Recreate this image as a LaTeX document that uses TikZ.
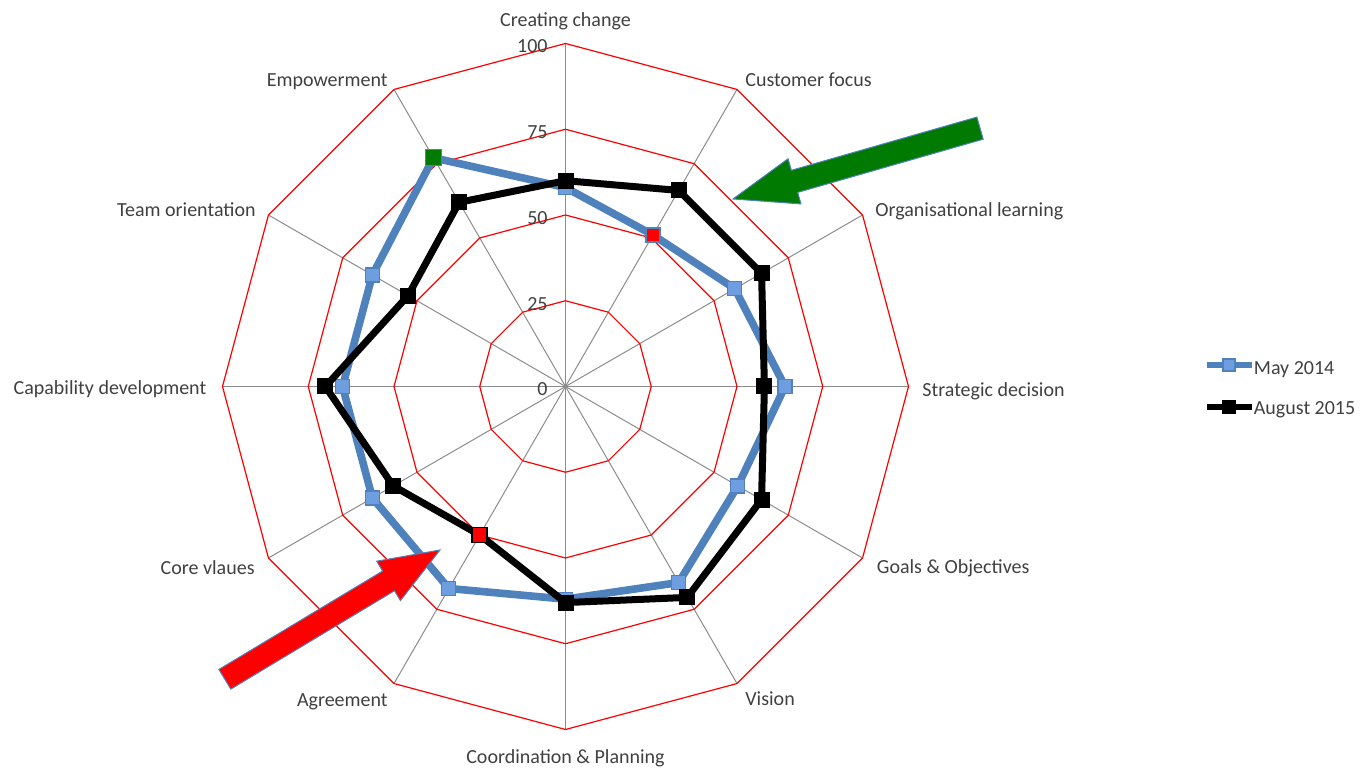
\documentclass[tikz,border=0pt]{standalone}
\usepackage{fontspec}
\setmainfont{Carlito}
\usetikzlibrary{calc}
\definecolor{mayblue}{HTML}{4F81BD}
\definecolor{maylight}{HTML}{6E9DE0}
\definecolor{txtgray}{HTML}{404040}
\definecolor{arrowgreen}{HTML}{007A00}
\definecolor{spokegray}{HTML}{8C8C8C}

\begin{document}
\begin{tikzpicture}[x=0.5pt, y=0.5pt,
	ring/.style={draw=red, line width=0.6pt},
	spoke/.style={draw=spokegray, line width=0.5pt},
	lbl/.style={text=txtgray, font=\fontsize{10}{12}\selectfont, inner sep=0pt},
	mayline/.style={draw=mayblue, line width=3.8pt, line join=round},
	augline/.style={draw=black, line width=3.5pt, line join=round},
	maymark/.style={draw=mayblue, fill=maylight, line width=0.6pt, minimum size=7pt, inner sep=0pt},
	augmark/.style={fill=black, minimum size=8pt, inner sep=0pt},
	bigarrow/.style={draw=mayblue, line width=0.5pt, line join=miter}]
	\useasboundingbox (-565.5,-382.5) rectangle (794.5,386.5);
	\coordinate (o) at (0,0);
	% grid
	\foreach \i in {0,...,11}
		\draw[spoke] (o) -- ({90-30*\i}:343) coordinate (s\i);
	\foreach \v in {25,50,75,100}
		\draw[ring] (90:{3.43*\v}) \foreach \i in {1,...,11} {-- ({90-30*\i}:{3.43*\v})} -- cycle;
	\foreach \v in {0,25,50,75,100}
		\node[lbl, anchor=base east] (t\v) at (-17.5, {3.43*\v-9.5}) {\v};
	% axis labels
	\node[lbl, anchor=base] (cc) at (0,359.5) {Creating change};
	\node[lbl, anchor=base west] (cf) at (179.5,299.5) {Customer focus};
	\node[lbl, anchor=base west] (ol) at (309.5,169.5) {Organisational learning};
	\node[lbl, anchor=base west] (sd) at (356.5,-10.5) {Strategic decision};
	\node[lbl, anchor=base west] (go) at (311,-187) {Goals \& Objectives};
	\node[lbl, anchor=base west] (vi) at (179.5,-319) {Vision};
	\node[lbl, anchor=base] (cp) at (0,-377.5) {Coordination \& Planning};
	\node[lbl, anchor=base east] (ag) at (-177.5,-320.5) {Agreement};
	\node[lbl, anchor=base east] (cv) at (-310.5,-188.5) {Core vlaues};
	\node[lbl, anchor=base east] (cd) at (-358.8,-8.5) {Capability development};
	\node[lbl, anchor=base east] (to) at (-309.5,169.5) {Team orientation};
	\node[lbl, anchor=base east] (em) at (-177.5,299.5) {Empowerment};
	% series
	\foreach \v [count=\i from 0] in {58,51,57,64,58,66,62,68,65,65,65,77}
		\coordinate (m\i) at ({90-30*\i}:{3.43*\v});
	\foreach \v [count=\i from 0] in {60,66,66,58,66,71,63,50,58,70,53,62}
		\coordinate (a\i) at ({90-30*\i}:{3.43*\v});
	\draw[mayline] (m0) \foreach \i in {1,...,11} {-- (m\i)} -- cycle;
	\foreach \i in {0,2,3,4,5,6,7,8,9,10}
		\node[maymark] (mm\i) at (m\i) {};
	\node[maymark, fill=red] (mm1) at (m1) {};
	\node[maymark, fill=arrowgreen, minimum size=8pt] (mm11) at (m11) {};
	\draw[augline] (a0) \foreach \i in {1,...,11} {-- (a\i)} -- cycle;
	\foreach \i in {0,1,2,3,4,5,6,8,9,10,11}
		\node[augmark] (am\i) at (a\i) {};
	\node[augmark, draw=black, fill=red, line width=0.8pt, minimum size=7.5pt] (am7) at (a7) {};
	% arrows
	\begin{scope}[shift={(167.5,187.5)}, rotate=196]
		\draw[bigarrow, fill=arrowgreen] (0,0) -- (-64,23.5) -- (-64,11.5) -- (-257,11.5)
			-- (-257,-11.5) -- (-64,-11.5) -- (-64,-23.5) -- cycle;
	\end{scope}
	\begin{scope}[shift={(-125.5,-163.5)}, rotate=31]
		\draw[bigarrow, fill=red] (0,0) -- (-60,23) -- (-60,11.5) -- (-251,11.5)
			-- (-251,-11.5) -- (-60,-11.5) -- (-60,-23) -- cycle;
	\end{scope}
	% legend
	\coordinate (lm1) at (641,21.5);
	\coordinate (lm2) at (686,21.5);
	\coordinate (la1) at (641,-20.2);
	\coordinate (la2) at (686,-20.2);
	\draw[mayline, line width=3pt] (lm1) -- (lm2);
	\node[maymark, minimum size=6pt] (lmm) at ($(lm1)!0.5!(lm2)$) {};
	\draw[augline, line width=3pt] (la1) -- (la2);
	\node[augmark, minimum size=7pt] (lam) at ($(la1)!0.5!(la2)$) {};
	\node[lbl, anchor=base west] (lmay) at (688,11.5) {May 2014};
	\node[lbl, anchor=base west] (laug) at (688,-28.5) {August 2015};
\end{tikzpicture}
\end{document}
